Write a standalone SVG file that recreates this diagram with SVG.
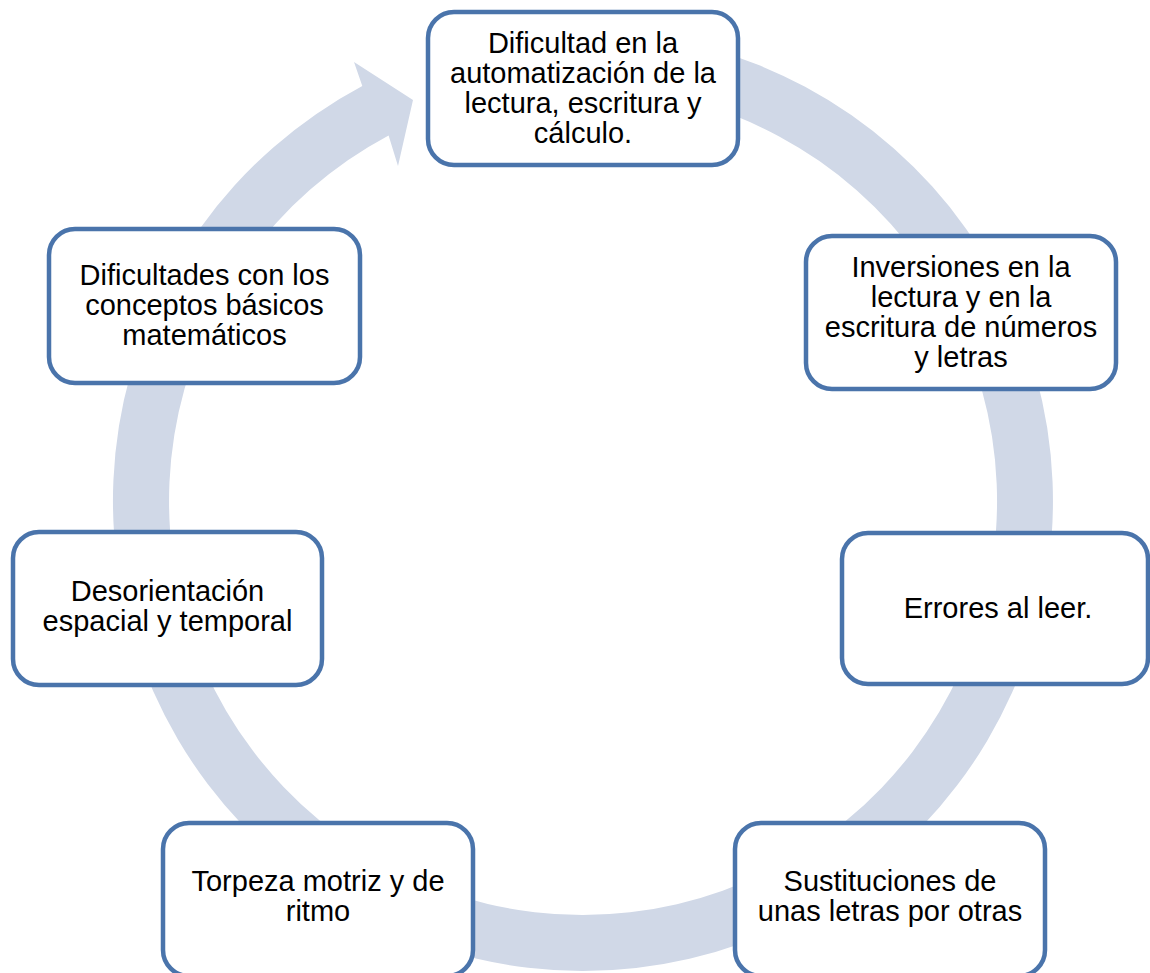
<svg xmlns="http://www.w3.org/2000/svg" width="1150" height="973" viewBox="0 0 1150 973">
<style>
.box{fill:#ffffff;stroke:#4A74AB;stroke-width:4.5}
.t{font-family:"Liberation Sans",Arial,sans-serif;font-size:29px;fill:#000000;text-anchor:middle}
.ring{fill:#D0D8E7}
</style>
<rect width="1150" height="973" fill="#ffffff"/>
<g id="connectors">
<path class="ring" d="M 704.6 47.0 A 470 470 0 1 1 362.3 86.0 L 354 62 L 413 100 L 398 166 L 388.6 135.5 A 414 414 0 1 0 690.2 101.1 Z"/>
</g>
<g id="node1">
<rect class="box" x="428" y="12" width="310" height="153" rx="26"/>
<text class="t" x="583" y="53">Dificultad en la</text>
<text class="t" x="583" y="83">automatización de la</text>
<text class="t" x="583" y="113">lectura, escritura y</text>
<text class="t" x="583" y="143">cálculo.</text>
</g>
<g id="node2">
<rect class="box" x="806" y="236" width="310" height="153" rx="26"/>
<text class="t" x="961" y="277">Inversiones en la</text>
<text class="t" x="961" y="307">lectura y en la</text>
<text class="t" x="961" y="337">escritura de números</text>
<text class="t" x="961" y="367">y letras</text>
</g>
<g id="node3">
<rect class="box" x="842" y="533" width="306" height="151" rx="26"/>
<text class="t" x="998" y="618">Errores al leer.</text>
</g>
<g id="node4">
<rect class="box" x="735" y="823" width="310" height="153" rx="26"/>
<text class="t" x="890" y="891">Sustituciones de</text>
<text class="t" x="890" y="921">unas letras por otras</text>
</g>
<g id="node5">
<rect class="box" x="163" y="823" width="310" height="153" rx="26"/>
<text class="t" x="318" y="891">Torpeza motriz y de</text>
<text class="t" x="318" y="921">ritmo</text>
</g>
<g id="node6">
<rect class="box" x="13" y="532" width="309" height="153" rx="26"/>
<text class="t" x="167.5" y="601">Desorientación</text>
<text class="t" x="167.5" y="631">espacial y temporal</text>
</g>
<g id="node7">
<rect class="box" x="49" y="229" width="311" height="154" rx="26"/>
<text class="t" x="204.5" y="285">Dificultades con los</text>
<text class="t" x="204.5" y="315">conceptos básicos</text>
<text class="t" x="204.5" y="345">matemáticos</text>
</g>
</svg>
